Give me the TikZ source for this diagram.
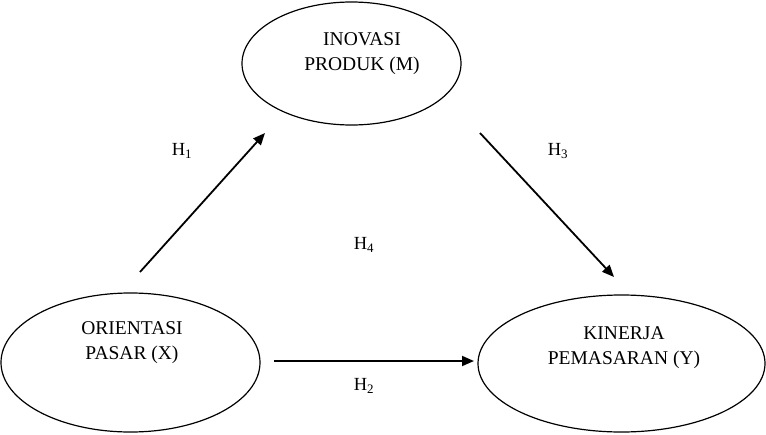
\documentclass[tikz,border=0pt]{standalone}
\usepackage{fontspec}
\setmainfont{Liberation Serif}
\usetikzlibrary{shapes.geometric,arrows.meta}
\begin{document}
\begin{tikzpicture}[x=1pt,y=-1pt,
  var/.style={draw,ellipse,line width=1.2pt,inner sep=0pt},
  txt/.style={align=center,font=\fontsize{19.5}{25}\selectfont,inner sep=0pt},
  hyp/.style={font=\fontsize{18.5}{22}\selectfont,inner sep=0pt},
  arr/.style={line width=1.8pt,-{Triangle[length=12pt,width=10pt]}}]
\useasboundingbox (0,0) rectangle (766,434);
\node[var,minimum width=219pt,minimum height=123pt] (M) at (351.5,63.5) {};
\node[var,minimum width=259pt,minimum height=139pt] (X) at (130.5,362.5) {};
\node[var,minimum width=287pt,minimum height=137pt] (Y) at (621.5,363.5) {};
\node[txt] (Mt) at (362,54) {INOVASI\\PRODUK (M)};
\node[txt] (Xt) at (132,343) {ORIENTASI\\PASAR (X)};
\node[txt] (Yt) at (624,348) {KINERJA\\PEMASARAN (Y)};
\coordinate (a1) at (140,272);
\coordinate (b1) at (265,133);
\coordinate (a3) at (480,133);
\coordinate (b3) at (614,277);
\coordinate (a2) at (274,361);
\coordinate (b2) at (474,361);
\draw[arr] (a1) -- (b1);
\draw[arr] (a3) -- (b3);
\draw[arr] (a2) -- (b2);
\node[hyp] (H1) at (182,151) {H\textsubscript{1}};
\node[hyp] (H3) at (558,151) {H\textsubscript{3}};
\node[hyp] (H4) at (364,245) {H\textsubscript{4}};
\node[hyp] (H2) at (364,386) {H\textsubscript{2}};
\end{tikzpicture}
\end{document}
